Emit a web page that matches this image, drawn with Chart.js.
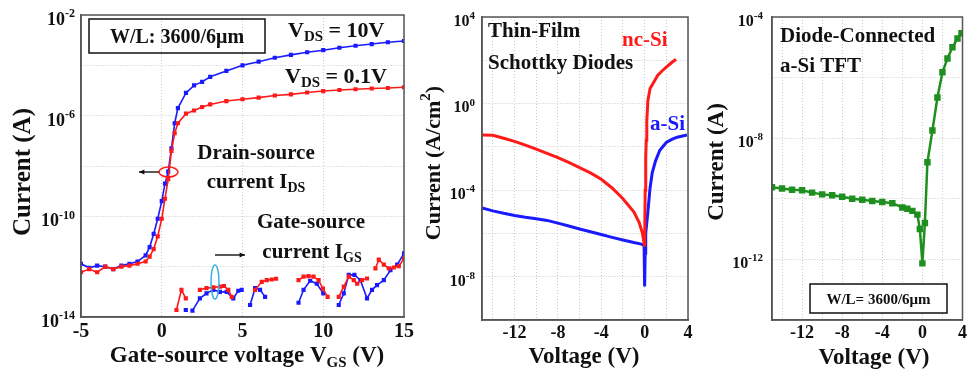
<!DOCTYPE html>
<html>
<head>
<meta charset="utf-8">
<script src="https://cdn.jsdelivr.net/npm/chart.js@4.4.1/dist/chart.umd.min.js"></script>
<style>
  html, body { margin: 0; padding: 0; background: #fff; }
  #wrap { position: relative; width: 969px; height: 374px; overflow: hidden; }
  canvas { position: absolute; top: 0; }
</style>
</head>
<body>
<div id="wrap">
  <canvas id="c1" width="420" height="374" style="left:0"></canvas>
  <canvas id="c2" width="285" height="374" style="left:420px"></canvas>
  <canvas id="c3" width="264" height="374" style="left:705px"></canvas>
</div>
<script>
// ---- panel 1 : TFT transfer curves ----
var vgsIds = [-5, -4.5, -4, -3.5, -3, -2.5, -2, -1.5, -1, -0.75, -0.5, -0.25, 0, 0.2, 0.4, 0.6, 0.8, 1, 1.5, 2, 2.5, 3, 4, 5, 6, 7, 8, 9, 10, 11, 12, 13, 14, 15];
var idsVds10 = [1.3e-12, 9e-13, 1.1e-12, 1e-12, 8e-13, 1.1e-12, 1.3e-12, 1.6e-12, 2.8e-12, 6e-12, 2e-11, 8e-11, 4e-10, 2e-9, 6e-9, 5e-8, 5e-7, 2e-6, 8e-6, 1.6e-5, 2.2e-5, 3.5e-5, 6e-5, 1e-4, 1.4e-4, 2e-4, 2.6e-4, 3.3e-4, 4e-4, 5e-4, 6e-4, 7e-4, 8.3e-4, 9.3e-4];
var idsVds01 = [6e-13, 8e-13, 6e-13, 1e-12, 8e-13, 1e-12, 1.1e-12, 1.3e-12, 1.6e-12, 2.5e-12, 5e-12, 1.6e-11, 8e-11, 5e-10, 3e-9, 4e-8, 2e-7, 5e-7, 1.2e-6, 1.6e-6, 2.2e-6, 2.8e-6, 3.8e-6, 4.5e-6, 5.2e-6, 6.3e-6, 7e-6, 8.3e-6, 9.5e-6, 1.05e-5, 1.12e-5, 1.2e-5, 1.26e-5, 1.35e-5];
var vgsIgsRed = [0.91, 1.22, 1.49, 1.9, 2.36, 2.77, 3.19, 3.6, 3.85, 4.12, 4.33, 5.0, 5.78, 6.19, 6.5, 6.81, 7.08, 7.8, 8.47, 8.78, 9.09, 9.4, 9.71, 9.98, 10.27, 10.6, 10.96, 11.27, 11.58, 11.89, 12.1, 12.4, 12.71, 13.0, 13.23, 13.44, 13.75, 14.06, 14.37, 14.68, 15.0];
var igsRed = [1.9e-14, 1.2e-13, 5.5e-14, null, 1.2e-13, 1.4e-13, 1.5e-13, 1.6e-13, 1.7e-13, 1.2e-13, 6.3e-14, null, 1.2e-13, 2.5e-13, 2.9e-13, 3.1e-13, 3.3e-13, null, 2.9e-13, 4e-13, 4.2e-13, 4e-13, 2.9e-13, 1.35e-13, 6.3e-14, null, 6.3e-14, 1.6e-13, 4e-13, 2.9e-13, 2.1e-13, 2.9e-13, 3.4e-13, null, 8.5e-13, 1.9e-12, 1.2e-12, 8.5e-13, 9.3e-13, 1.05e-12, 2.1e-12];
var vgsIgsBlue = [1.49, 1.7, 1.9, 2.36, 2.77, 3.19, 3.6, 4.02, 4.43, 4.74, 4.95, 5.2, 5.47, 5.78, 6.09, 6.4, 7.5, 8.47, 8.78, 9.19, 9.6, 10.0, 10.5, 10.96, 11.27, 11.58, 11.93, 12.3, 12.71, 13.02, 13.33, 13.75, 14.16, 14.58, 15.0];
var igsBlue = [1.9e-14, null, 1.8e-14, 5.5e-14, 8.7e-14, 1.2e-13, 1e-13, 1e-13, 5.5e-14, 1.1e-13, 1.2e-13, null, 3e-14, 1.4e-13, 1.2e-13, 6.3e-14, null, 3.7e-14, 1.2e-13, 2.75e-13, 2.1e-13, 8.7e-14, null, 3e-14, 8.7e-14, 4.7e-13, 4.7e-13, 2.9e-13, 5.5e-14, 1.2e-13, 1.85e-13, 2.9e-13, 7.2e-13, 1.2e-12, 3.4e-12];
var p1YGrid = [1e-2, 1e-4, 1e-6, 1e-8, 1e-10, 1e-12, 1e-14];
var p1YLabels = [1e-2, 1e-6, 1e-10, 1e-14];

// ---- panel 2 : Schottky diodes ----
var vNcSi = [-15, -14, -13, -12, -11, -10, -9, -8, -7, -6, -5, -4, -3, -2, -1, -0.5, -0.2, 0, 0.05, 0.1, 0.15, 0.2, 0.3, 0.5, 0.8, 1.2, 1.6, 2, 2.5, 2.9];
var jNcSi = [3.5e-2, 3.4e-2, 2.5e-2, 1.8e-2, 1.2e-2, 7.9e-3, 5e-3, 3.2e-3, 1.9e-3, 1.1e-3, 6.3e-4, 3.2e-4, 1.26e-4, 4e-5, 1e-5, 3.2e-6, 1e-6, 2.5e-7, 1e-4, 3.2e-3, 2e-2, 0.16, 1.4, 5, 8.9, 20, 32, 48, 79, 112];
var vASi = [-15, -14, -13, -12, -11, -10, -9, -8, -7, -6, -5, -4, -3, -2, -1, -0.3, -0.05, 0, 0.05, 0.1, 0.2, 0.3, 0.5, 0.7, 1, 1.4, 2, 2.5, 3, 3.9];
var jASi = [1.5e-5, 1.1e-5, 8.5e-6, 6.8e-6, 5.6e-6, 4.8e-6, 4e-6, 3e-6, 2.2e-6, 1.6e-6, 1.2e-6, 8.9e-7, 6.6e-7, 5e-7, 3.8e-7, 3.2e-7, 2.8e-7, 3.5e-9, 1.26e-7, 1e-6, 3.2e-6, 1e-5, 1.26e-4, 6.3e-4, 2.2e-3, 7e-3, 1.6e-2, 2.2e-2, 2.8e-2, 3.5e-2];
var p2YGrid = [1e4, 1e2, 1, 1e-2, 1e-4, 1e-6, 1e-8, 1e-10];
var p2YLabels = [1e4, 1, 1e-4, 1e-8];

// ---- panel 3 : diode-connected TFT ----
var vTft = [-15, -14, -13, -12, -11, -10, -9, -8, -7, -6, -5, -4, -3, -2, -1.5, -1, -0.5, -0.25, 0, 0.25, 0.5, 1, 1.5, 2, 2.5, 3, 3.5, 3.9];
var iTft = [2.4e-10, 2.2e-10, 2e-10, 1.9e-10, 1.6e-10, 1.4e-10, 1.3e-10, 1.17e-10, 1e-10, 9.3e-11, 8.5e-11, 7.9e-11, 7.1e-11, 5.2e-11, 4.7e-11, 4e-11, 3e-11, 1e-11, 7.4e-13, 1.6e-11, 1.6e-9, 1.8e-8, 2.2e-7, 1.5e-6, 4.3e-6, 1e-5, 1.95e-5, 2.9e-5];
var p3YGrid = [1e-4, 1e-6, 1e-8, 1e-10, 1e-12, 1e-14];
var p3YLabels = [1e-4, 1e-8, 1e-12];

// shared voltage axis for the diode panels
var vGrid = [-14, -12, -10, -8, -6, -4, -2, 0, 2, 4];
var vLabels = [-12, -8, -4, 0, 4];

var SERIF = '"Liberation Serif", "Times New Roman", serif';
var RED = '#ff1a1a', BLUE = '#1a1aff', GREEN = '#1f8f1f';

function font(size) { return 'bold ' + size + 'px ' + SERIF; }

// parts: [[text, ''|'sub'|'sup'], ...]
function richText(ctx, parts, x, y, size, align) {
  var small = Math.round(size * 0.66);
  var widths = parts.map(function (p) {
    ctx.font = font(p[1] ? small : size);
    return ctx.measureText(p[0]).width;
  });
  var total = widths.reduce(function (a, b) { return a + b; }, 0);
  var cx = align === 'center' ? x - total / 2 : align === 'right' ? x - total : x;
  ctx.textAlign = 'left';
  ctx.textBaseline = 'alphabetic';
  parts.forEach(function (p, i) {
    ctx.font = font(p[1] ? small : size);
    var dy = p[1] === 'sub' ? size * 0.2 : p[1] === 'sup' ? -size * 0.42 : 0;
    ctx.fillText(p[0], cx, y + dy);
    cx += widths[i];
  });
}

function vertText(ctx, parts, x, y, size) {
  ctx.save();
  ctx.translate(x, y);
  ctx.rotate(-Math.PI / 2);
  richText(ctx, parts, 0, size * 0.35, size, 'center');
  ctx.restore();
}

function arrow(ctx, x1, y1, x2, y2) {
  var ang = Math.atan2(y2 - y1, x2 - x1);
  ctx.beginPath();
  ctx.moveTo(x1, y1);
  ctx.lineTo(x2, y2);
  ctx.stroke();
  ctx.beginPath();
  ctx.moveTo(x2, y2);
  ctx.lineTo(x2 - 6 * Math.cos(ang - 0.45), y2 - 6 * Math.sin(ang - 0.45));
  ctx.lineTo(x2 - 6 * Math.cos(ang + 0.45), y2 - 6 * Math.sin(ang + 0.45));
  ctx.closePath();
  ctx.fill();
}

function pts(xs, ys) {
  return xs.map(function (x, i) { return { x: x, y: ys[i] }; });
}

function panelPlugin(opt) {
  return {
    id: 'panelDecor',
    afterDraw: function (chart) {
      var ctx = chart.ctx, a = chart.chartArea, ys = chart.scales.y;
      ctx.save();
      ctx.strokeStyle = '#555';
      ctx.lineWidth = 1.5;
      ctx.strokeRect(a.left, a.top, a.right - a.left, a.bottom - a.top);
      ctx.fillStyle = '#111';
      opt.yLabels.forEach(function (v) {
        var py = ys.getPixelForValue(v);
        var exp = String(Math.round(Math.log10(v)));
        richText(ctx, [['10', ''], [exp, 'sup']], a.left - opt.gap, py + opt.tickSize * 0.55, opt.tickSize, 'right');
      });
      ctx.fillStyle = '#111';
      ctx.strokeStyle = '#111';
      opt.draw(ctx, a);
      ctx.restore();
    }
  };
}

function makeOptions(o) {
  return {
    responsive: false,
    animation: false,
    layout: { padding: { top: o.top, right: o.right, left: 0, bottom: 0 } },
    plugins: { legend: { display: false }, tooltip: { enabled: false } },
    elements: { line: { tension: 0 } },
    scales: {
      x: {
        type: 'linear', min: o.xMin, max: o.xMax,
        afterBuildTicks: function (s) {
          s.ticks = o.xGrid.map(function (v) { return { value: v }; });
        },
        afterFit: function (s) { s.height = o.xHeight; s.paddingLeft = 0; s.paddingRight = 0; },
        ticks: {
          autoSkip: false, maxRotation: 0, padding: 3, color: '#111',
          font: { family: SERIF, size: o.xTickSize, weight: 'bold' },
          callback: function (v) { return o.xLabels.indexOf(v) >= 0 ? String(v) : ''; }
        },
        grid: { color: '#c8c8c8', lineWidth: 1, drawTicks: false },
        border: { display: true, color: '#555', width: 1.5, dash: [1, 2] }
      },
      y: {
        type: 'logarithmic', min: o.yMin, max: o.yMax,
        afterBuildTicks: function (s) {
          s.ticks = o.yGrid.map(function (v) { return { value: v }; });
        },
        afterFit: function (s) { s.width = o.yWidth; s.paddingTop = 0; s.paddingBottom = 0; },
        ticks: { display: false },
        grid: { color: '#c8c8c8', lineWidth: 1, drawTicks: false },
        border: { display: true, color: '#555', width: 1.5, dash: [1, 2] }
      }
    }
  };
}

// ---------- panel 1 ----------
new Chart(document.getElementById('c1'), {
  type: 'line',
  data: {
    datasets: [
      { data: pts(vgsIds, idsVds01), borderColor: RED, backgroundColor: RED, borderWidth: 1.6, pointStyle: 'rect', pointRadius: 1.8 },
      { data: pts(vgsIds, idsVds10), borderColor: BLUE, backgroundColor: BLUE, borderWidth: 1.6, pointStyle: 'rect', pointRadius: 1.8 },
      { data: pts(vgsIgsRed, igsRed), borderColor: RED, backgroundColor: RED, borderWidth: 1.6, pointStyle: 'rect', pointRadius: 1.8, spanGaps: false },
      { data: pts(vgsIgsBlue, igsBlue), borderColor: BLUE, backgroundColor: BLUE, borderWidth: 1.6, pointStyle: 'rect', pointRadius: 1.8, spanGaps: false }
    ]
  },
  options: makeOptions({
    top: 15, right: 16, xHeight: 57, yWidth: 81, xMin: -5, xMax: 15,
    xGrid: [-5, 0, 5, 10, 15], xLabels: [-5, 0, 5, 10, 15], xTickSize: 20,
    yMin: 1e-14, yMax: 1e-2, yGrid: p1YGrid
  }),
  plugins: [panelPlugin({
    yLabels: p1YLabels, tickSize: 18, gap: 6,
    draw: function (ctx, a) {
      ctx.lineWidth = 1.5;
      ctx.strokeRect(89, 19, 176, 34);
      richText(ctx, [['W/L: 3600/6\u03bcm', '']], 177, 43, 20, 'center');
      richText(ctx, [['V', ''], ['DS', 'sub'], [' = 10V', '']], 288, 37, 22, 'left');
      richText(ctx, [['V', ''], ['DS', 'sub'], [' = 0.1V', '']], 285, 83, 22, 'left');
      richText(ctx, [['Drain-source', '']], 256, 159, 21, 'center');
      richText(ctx, [['current I', ''], ['DS', 'sub']], 256, 188, 21, 'center');
      richText(ctx, [['Gate-source', '']], 311, 228, 21, 'center');
      richText(ctx, [['current I', ''], ['GS', 'sub']], 312, 258, 21, 'center');
      // markers of the two groups of curves
      ctx.strokeStyle = RED;
      ctx.lineWidth = 1.5;
      ctx.beginPath();
      ctx.ellipse(168.5, 172, 9.5, 5, 0, 0, Math.PI * 2);
      ctx.stroke();
      ctx.strokeStyle = '#3ab0e0';
      ctx.beginPath();
      ctx.ellipse(215, 282, 4, 17, 0, 0, Math.PI * 2);
      ctx.stroke();
      ctx.strokeStyle = '#111';
      ctx.fillStyle = '#111';
      ctx.lineWidth = 1.4;
      arrow(ctx, 159, 172, 139, 172);
      arrow(ctx, 215, 255, 245, 255);
      // axis titles
      vertText(ctx, [['Current (A)', '']], 21, 172, 25);
      richText(ctx, [['Gate-source voltage V', ''], ['GS', 'sub'], [' (V)', '']], 247, 362, 23, 'center');
    }
  })]
});

// ---------- panel 2 ----------
new Chart(document.getElementById('c2'), {
  type: 'line',
  data: {
    datasets: [
      { data: pts(vNcSi, jNcSi), borderColor: RED, borderWidth: 3, pointRadius: 0 },
      { data: pts(vASi, jASi), borderColor: BLUE, borderWidth: 3, pointRadius: 0 }
    ]
  },
  options: makeOptions({
    top: 17, right: 17, xHeight: 54, yWidth: 62, xMin: -15, xMax: 4,
    xGrid: vGrid, xLabels: vLabels, xTickSize: 18,
    yMin: 1e-10, yMax: 1e4, yGrid: p2YGrid
  }),
  plugins: [panelPlugin({
    yLabels: p2YLabels, tickSize: 16, gap: 7,
    draw: function (ctx, a) {
      richText(ctx, [['Thin-Film', '']], 68, 37, 21, 'left');
      richText(ctx, [['Schottky Diodes', '']], 68, 69, 21, 'left');
      ctx.fillStyle = RED;
      richText(ctx, [['nc-Si', '']], 202, 46, 21, 'left');
      ctx.fillStyle = BLUE;
      richText(ctx, [['a-Si', '']], 230, 130, 21, 'left');
      ctx.fillStyle = '#111';
      vertText(ctx, [['Current (A/cm', ''], ['2', 'sup'], [')', '']], 12, 163, 22);
      richText(ctx, [['Voltage (V)', '']], 164, 363, 23, 'center');
    }
  })]
});

// ---------- panel 3 ----------
new Chart(document.getElementById('c3'), {
  type: 'line',
  data: {
    datasets: [
      { data: pts(vTft, iTft), borderColor: GREEN, backgroundColor: GREEN, borderWidth: 2.5, pointStyle: 'rect', pointRadius: 2.8 }
    ]
  },
  options: makeOptions({
    top: 17, right: 3, xHeight: 54, yWidth: 67, xMin: -15, xMax: 4,
    xGrid: vGrid, xLabels: vLabels, xTickSize: 18,
    yMin: 1e-14, yMax: 1e-4, yGrid: p3YGrid
  }),
  plugins: [panelPlugin({
    yLabels: p3YLabels, tickSize: 16, gap: 9,
    draw: function (ctx, a) {
      richText(ctx, [['Diode-Connected', '']], 75, 42, 21, 'left');
      richText(ctx, [['a-Si TFT', '']], 75, 72, 21, 'left');
      ctx.lineWidth = 1.5;
      ctx.fillStyle = '#fff';
      ctx.fillRect(105, 284, 137, 29);
      ctx.strokeRect(105, 284, 137, 29);
      ctx.fillStyle = '#111';
      richText(ctx, [['W/L= 3600/6\u03bcm', '']], 173.5, 304, 15, 'center');
      vertText(ctx, [['Current (A)', '']], 10, 162, 23);
      richText(ctx, [['Voltage (V)', '']], 169, 364, 23, 'center');
    }
  })]
});
</script>
</body>
</html>
